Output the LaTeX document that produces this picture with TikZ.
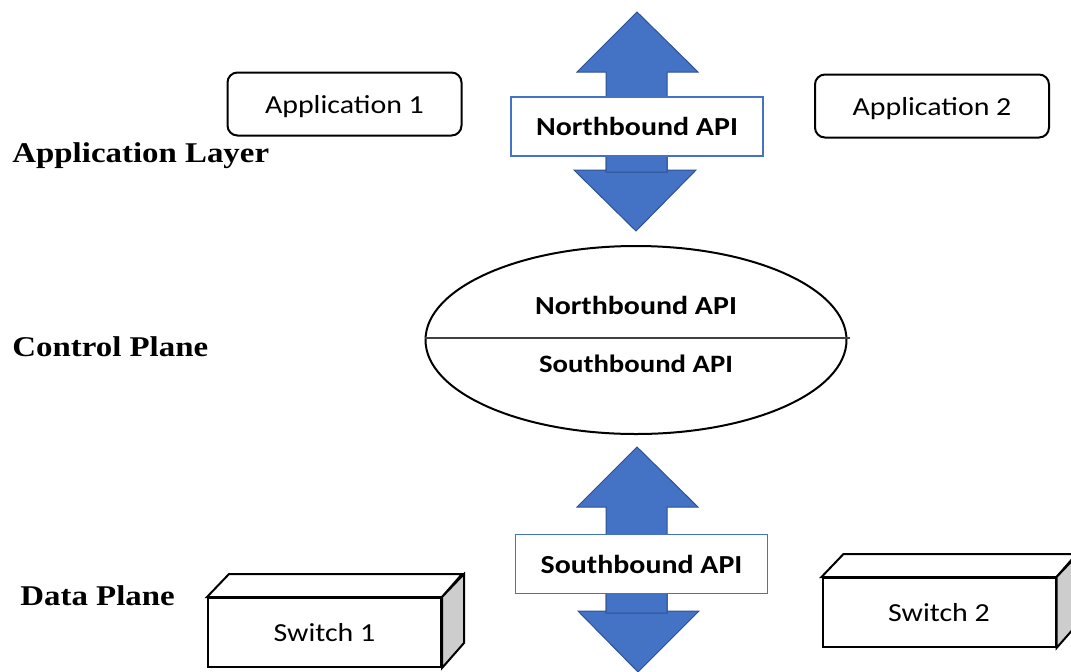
\documentclass[tikz,border=0pt]{standalone}
\usepackage{fontspec}
\setmainfont{Liberation Serif}[FakeStretch=1.15]
\setsansfont{Carlito}[FakeStretch=1.15]
\usepackage{xcolor}
\usepackage{tikz}
\usetikzlibrary{positioning,shapes.geometric}
\definecolor{arrowblue}{RGB}{68,114,196}
\definecolor{arrowedge}{RGB}{47,82,143}
\definecolor{sidegray}{RGB}{205,205,205}

\begin{document}
\begin{tikzpicture}[x=0.5pt,y=-0.5pt,
    appbox/.style={draw,line width=1pt,rounded corners=5pt,minimum width=117pt,
      minimum height=31.5pt,text depth=0pt,font=\sffamily\fontsize{13}{15}\selectfont},
    apibox/.style={draw=arrowblue,line width=0.8pt,fill=white,minimum width=126pt,
      minimum height=29.5pt,font=\sffamily\bfseries\fontsize{13}{15}\selectfont},
    swface/.style={draw,line width=1pt,fill=white,minimum width=116.5pt,
      minimum height=34.5pt,inner sep=0pt,font=\sffamily\fontsize{13}{15}\selectfont},
    layer/.style={anchor=base west,inner sep=0pt,font=\bfseries\fontsize{14.3}{17}\selectfont},
    bigarrow/.style={fill=arrowblue,draw=arrowedge,line width=0.5pt,line join=miter}]
  \clip (0,0) rectangle (1071,671);

  % northbound arrow
  \draw[bigarrow] (606,100) -- (667,100) -- (667,170) -- (696,170) -- (636,231)
        -- (574,170) -- (606,170) -- cycle;
  \draw[bigarrow] (637,12) -- (698,72) -- (667,72) -- (667,172) -- (606,172)
        -- (606,72) -- (577,72) -- cycle;
  \node[apibox] (nbapi) at (637,126.5) {Northbound API};

  % southbound arrow
  \draw[bigarrow] (606,540) -- (667,540) -- (667,611) -- (699,611) -- (638,672)
        -- (578,611) -- (606,611) -- cycle;
  \draw[bigarrow] (637,447) -- (698,507) -- (667,507) -- (667,613) -- (606,613)
        -- (606,507) -- (577,507) -- cycle;
  \node[apibox] (sbapi) at (641.5,564) {Southbound API};

  \node[appbox] (app1) at (344.5,104) {Application 1};
  \node[appbox] (app2) at (932,106) {Application 2};

  \node[draw,ellipse,line width=1pt,inner sep=0pt,minimum width=210.5pt,
        minimum height=94pt] (ctrl) at (636,340) {};
  \draw[line width=0.6pt,black!75] ([yshift=1pt]ctrl.west) -- ([xshift=1pt,yshift=1pt]ctrl.east);
  \node[anchor=base,font=\sffamily\bfseries\fontsize{13}{15}\selectfont] (ctrlnb)
        at (636,314) {Northbound API};
  \node[anchor=base,font=\sffamily\bfseries\fontsize{12.5}{15}\selectfont] (ctrlsb)
        at (636,372) {Southbound API};

  \node[swface] (sw1) at (324.5,632.5) {Switch 1};
  \draw[line width=1pt,fill=white] (sw1.north west) -- ++(22,-23) -- ++(233,0)
        -- (sw1.north east) -- cycle;
  \draw[line width=1pt,fill=sidegray] (sw1.north east) -- ++(22,-23) -- ++(0,69)
        -- (sw1.south east) -- cycle;

  \node[swface] (sw2) at (939,612.5) {Switch 2};
  \draw[line width=1pt,fill=white] (sw2.north west) -- ++(22,-23) -- ++(233,0)
        -- (sw2.north east) -- cycle;
  \draw[line width=1pt,fill=sidegray] (sw2.north east) -- ++(22,-23) -- ++(0,69)
        -- (sw2.south east) -- cycle;

  \node[layer] (applayer) at (12,162) {Application Layer};
  \node[layer] (ctrlplane) at (12,356) {Control Plane};
  \node[layer] (dataplane) at (20,605) {Data Plane};
\end{tikzpicture}
\end{document}
